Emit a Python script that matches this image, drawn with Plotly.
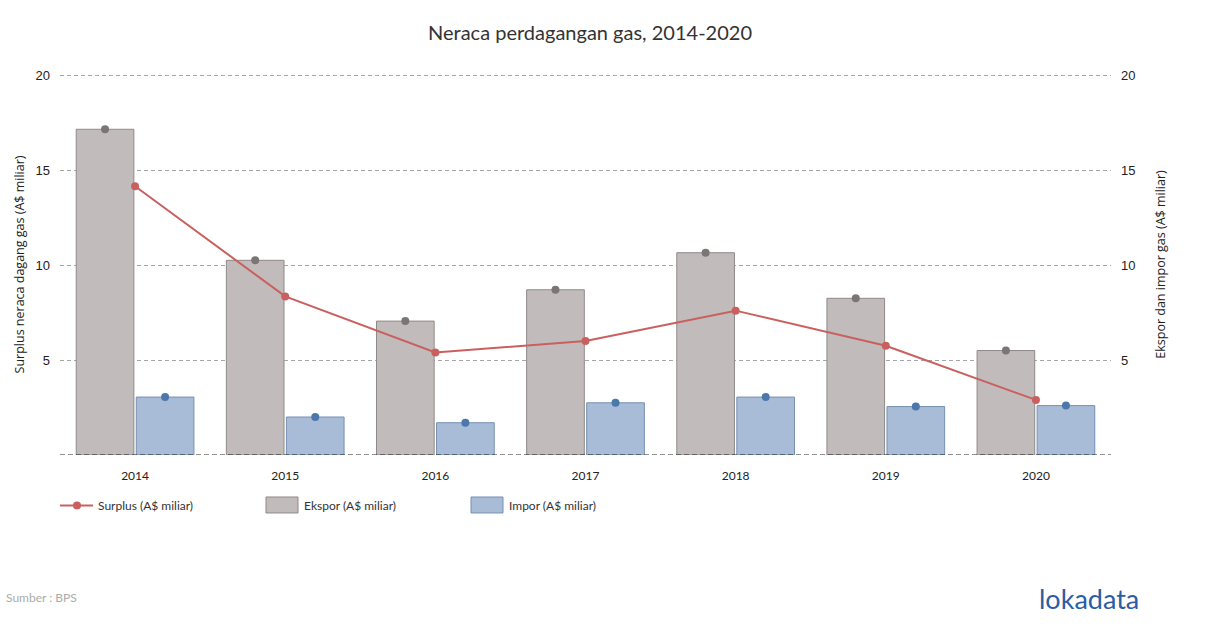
import plotly.graph_objects as go

years = ["2014", "2015", "2016", "2017", "2018", "2019", "2020"]
ekspor = [17.15, 10.25, 7.05, 8.7, 10.65, 8.25, 5.5]
impor = [3.05, 2.0, 1.7, 2.75, 3.05, 2.55, 2.6]
surplus = [14.15, 8.35, 5.4, 6.0, 7.6, 5.75, 2.9]
y_ticks = [5, 10, 15, 20]
Y_RANGE = [0, 20.06]

GRAY_FILL = "#c1bcbb"
GRAY_LINE = "#8f8a89"
GRAY_MARK = "#7b7675"
BLUE_FILL = "#a8bcd7"
BLUE_LINE = "#7590b2"
BLUE_MARK = "#4c77aa"
RED = "#c9605f"

BARGAP = 0.2
idx = list(range(len(years)))
slot = (1 - BARGAP) / 2
ek_x = [i - slot / 2 for i in idx]
im_x = [i + slot / 2 for i in idx]

fig = go.Figure()

# bars on main y axis (drawn first, right side)
fig.add_trace(go.Bar(
    x=idx, y=ekspor, yaxis="y", name="Ekspor (A$ miliar)", showlegend=False,
    marker=dict(color=GRAY_FILL, line=dict(color=GRAY_LINE, width=1)),
))
fig.add_trace(go.Bar(
    x=idx, y=impor, yaxis="y", name="Impor (A$ miliar)", showlegend=False,
    marker=dict(color=BLUE_FILL, line=dict(color=BLUE_LINE, width=1)),
))
fig.add_trace(go.Scatter(
    x=ek_x, y=ekspor, yaxis="y", mode="markers", showlegend=False,
    marker=dict(color=GRAY_MARK, size=8), hoverinfo="skip",
))
fig.add_trace(go.Scatter(
    x=im_x, y=impor, yaxis="y", mode="markers", showlegend=False,
    marker=dict(color=BLUE_MARK, size=8), hoverinfo="skip",
))
# surplus line on overlay axis (left side), drawn on top
fig.add_trace(go.Scatter(
    x=idx, y=surplus, yaxis="y2", name="Surplus (A$ miliar)", showlegend=False,
    mode="lines+markers", line=dict(color=RED, width=2),
    marker=dict(color=RED, size=8),
))

axis_common = dict(range=Y_RANGE, tickvals=y_ticks, showline=False, zeroline=False,
                   automargin=False, ticks="", ticklabelstandoff=9,
                   tickfont=dict(family="Liberation Sans, Arial", size=13, color="#222"))

W, H = 1210, 628
L, R = 60, 99
PH = 380 * Y_RANGE[1] / 20
B = 628 - 455
T = H - B - PH
PW = W - L - R


def px(xp):
    return (xp - L) / PW


def py(yp):
    return (T + PH - yp) / PH


legend_y = py(505.5)
shapes = [
    dict(type="line", xref="paper", yref="y", x0=0, x1=1, y0=0, y1=0,
         line=dict(color="#222", width=1, dash="5px,3px")),
    # custom legend
    dict(type="line", xref="paper", yref="paper", x0=px(60), x1=px(93),
         y0=legend_y, y1=legend_y, line=dict(color=RED, width=2)),
    dict(type="circle", xref="paper", yref="paper", xsizemode="pixel", ysizemode="pixel",
         xanchor=px(77), yanchor=legend_y, x0=-4, x1=4, y0=-4, y1=4,
         fillcolor=RED, line=dict(width=0)),
    dict(type="rect", xref="paper", yref="paper", x0=px(266), x1=px(298),
         y0=py(513), y1=py(497), fillcolor=GRAY_FILL, line=dict(color=GRAY_LINE, width=1)),
    dict(type="rect", xref="paper", yref="paper", x0=px(471), x1=px(503),
         y0=py(513), y1=py(497), fillcolor=BLUE_FILL, line=dict(color=BLUE_LINE, width=1)),
]

legend_texts = [("Surplus (A$ miliar)", 96), ("Ekspor (A$ miliar)", 302), ("Impor (A$ miliar)", 507)]
annotations = [
    dict(text=t, xref="paper", yref="paper", x=px(xp), y=legend_y, xanchor="left",
         yanchor="middle", showarrow=False, font=dict(family="Lato", size=12, color="#333"))
    for t, xp in legend_texts
]
annotations += [
    dict(text="Sumber : BPS", xref="paper", yref="paper", x=px(4), y=py(598),
         xanchor="left", yanchor="middle", showarrow=False,
         font=dict(family="Lato", size=12, color="#ababab")),
    dict(text="lokadata", xref="paper", yref="paper", x=px(1141), y=py(599),
         xanchor="right", yanchor="middle", showarrow=False,
         font=dict(family="Lato", size=27, color="#2c5ca6")),
]

fig.update_layout(
    width=W, height=H,
    paper_bgcolor="white", plot_bgcolor="white",
    font=dict(family="Lato", color="#333"),
    margin=dict(l=L, r=R, t=T, b=B),
    barmode="group", bargap=BARGAP, bargroupgap=0.04,
    showlegend=False,
    title=dict(text="Neraca perdagangan gas, 2014-2020", x=px(590), xanchor="center",
               xref="paper", yref="container", y=1 - 33 / H, yanchor="middle",
               font=dict(family="Lato", size=20, color="#333")),
    xaxis=dict(range=[-0.5, len(years) - 0.5], tickvals=idx, ticktext=years,
               showgrid=False, showline=False, zeroline=False, ticks="",
               automargin=False, ticklabelstandoff=12,
               tickfont=dict(family="Lato", size=12, color="#222")),
    yaxis=dict(**axis_common, side="right", showgrid=True, gridcolor="#a6a6a6",
               griddash="4px,3px", gridwidth=1,
               title=dict(text="Ekspor dan impor gas (A$ miliar)", standoff=21,
                          font=dict(family="Open Sans", size=12.5, color="#222"))),
    yaxis2=dict(**axis_common, side="left", overlaying="y", showgrid=False,
                title=dict(text="Surplus neraca dagang gas (A$ miliar)", standoff=8,
                           font=dict(family="Open Sans", size=12.5, color="#222"))),
    shapes=shapes,
    annotations=annotations,
)

fig.write_html("out.html", config={"displayModeBar": False},
               post_script="document.body.style.margin='0px';")
